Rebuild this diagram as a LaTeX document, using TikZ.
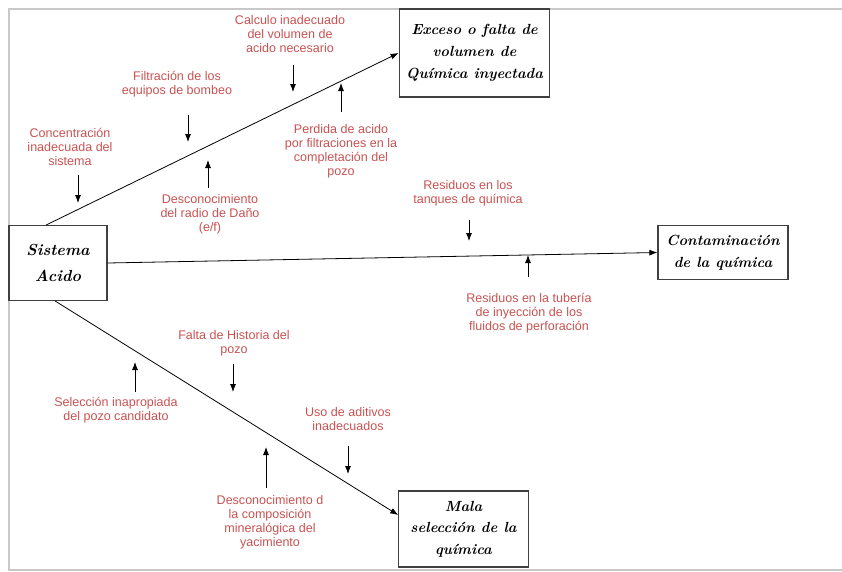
\documentclass[tikz,border=0pt]{standalone}
\usepackage{fontspec}
\setsansfont{Liberation Sans}
\usepackage{xcolor}
\usepackage{tikz}
\usetikzlibrary{arrows.meta, positioning, calc}

\definecolor{causered}{RGB}{200,82,82}
\definecolor{framegray}{RGB}{200,200,200}

\begin{document}
\begin{tikzpicture}[
    x=0.75pt, y=-0.75pt,
    effect/.style={rectangle, draw=black!75, line width=0.9pt, align=center, inner sep=2pt, font=\fontsize{11}{16.5}\selectfont\bfseries\itshape},
    cause/.style={align=center, inner sep=0pt, text=causered, font=\sffamily\fontsize{9.4}{10.5}\selectfont},
    spine/.style={-{Latex[length=6pt,width=4.5pt]}, semithick},
    arr/.style={-{Latex[length=6pt,width=4.5pt]}, semithick},
]
\useasboundingbox (0,0) rectangle (842,571);

% ======== FRAME ========
\draw[framegray, line width=0.9pt] (842,9) -- (9,9) -- (9,570) -- (842,570);

% ======== BOXES ========
\node[effect, minimum width=73.5pt, minimum height=56pt, font=\fontsize{12}{19.5}\selectfont\bfseries\itshape] (sis) at (58,263) {Sistema\\Acido};
\node[effect, minimum width=113pt, minimum height=66pt] (exc) at (474.5,53) {Exceso o falta de\\volumen de\\Química inyectada};
\node[effect, minimum width=97.5pt, minimum height=40pt] (con) at (723,252.5) {Contaminación\\de la química};
\node[effect, minimum width=97pt, minimum height=57pt, font=\fontsize{11}{16}\selectfont\bfseries\itshape] (mal) at (463.5,529) {Mala\\selección de la\\química};

% ======== SPINES ========
\draw[spine] ($(sis.north)+(-12,0)$) -- (exc.west);
\draw[spine] (sis.east) -- (con.west);
\draw[spine] ($(sis.south)+(-3,0)$) -- ($(mal.west)+(0,-14)$);

% ======== UPPER BRANCH ========
\node[cause] (conc) at (70,147) {Concentración\\inadecuada del\\sistema};
\node[cause] (filt) at (177,84) {Filtración de  los\\equipos de bombeo};
\node[cause] (calc) at (290,34) {Calculo inadecuado\\del volumen de\\acido necesario};
\node[cause] (desr) at (210,214) {Desconocimiento\\del radio de Daño\\(e/f)};
\node[cause] (perd) at (341,151) {Perdida de acido\\por filtraciones en la\\completación del\\pozo};

\coordinate (conc1) at (78,175);  \coordinate (conc2) at (78,203);
\coordinate (filt1) at (188,115); \coordinate (filt2) at (188,142);
\coordinate (calc1) at (293,65);  \coordinate (calc2) at (293,92);
\coordinate (desr1) at (208,188); \coordinate (desr2) at (208,160);
\coordinate (perd1) at (341,112); \coordinate (perd2) at (341,83);
\draw[arr] (conc1) -- (conc2);
\draw[arr] (filt1) -- (filt2);
\draw[arr] (calc1) -- (calc2);
\draw[arr] (desr1) -- (desr2);
\draw[arr] (perd1) -- (perd2);

% ======== MIDDLE BRANCH ========
\node[cause] (tanq) at (468,193) {Residuos en los\\tanques de química};
\node[cause] (tube) at (529,313) {Residuos en la tubería\\de inyección de los\\fluidos de perforación};

\coordinate (tanq1) at (469,220); \coordinate (tanq2) at (469,241);
\coordinate (tube1) at (528,277); \coordinate (tube2) at (528,255);
\draw[arr] (tanq1) -- (tanq2);
\draw[arr] (tube1) -- (tube2);

% ======== LOWER BRANCH ========
\node[cause] (hist) at (234,343) {Falta de Historia del\\pozo};
\node[cause] (sele) at (116,410) {Selección inapropiada\\del pozo candidato};
\node[cause] (adit) at (348,419) {Uso de aditivos\\inadecuados};
\node[cause] (mine) at (270,522) {Desconocimiento d\\la composición\\mineralógica del\\yacimiento};

\coordinate (hist1) at (233,364); \coordinate (hist2) at (233,392);
\coordinate (sele1) at (135,392); \coordinate (sele2) at (135,362);
\coordinate (adit1) at (348,446); \coordinate (adit2) at (348,474);
\coordinate (mine1) at (266,488); \coordinate (mine2) at (266,447);
\draw[arr] (hist1) -- (hist2);
\draw[arr] (sele1) -- (sele2);
\draw[arr] (adit1) -- (adit2);
\draw[arr] (mine1) -- (mine2);

\end{tikzpicture}
\end{document}
